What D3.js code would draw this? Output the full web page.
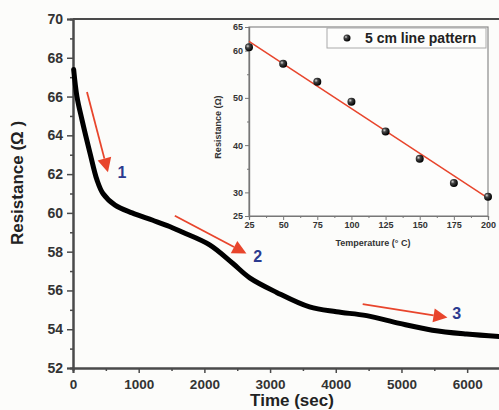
<!DOCTYPE html>
<html>
<head>
<meta charset="utf-8">
<script src="https://cdn.jsdelivr.net/npm/d3@7"></script>
<style>
  body { margin: 0; background: #fcfcfa; }
  svg { display: block; font-family: "Liberation Sans", Arial, sans-serif; }
</style>
</head>
<body>
<svg id="chart" width="499" height="410"></svg>
<script>
// main curve: resistance vs time
const timeSec = [10, 60, 137, 258, 365, 456, 640, 900, 1215, 1470, 1670, 2080, 2430, 2690, 3100, 3600, 4010, 4470, 4970, 5470, 5990, 6500]
const resistance = [67.4, 66.0, 64.8, 63.1, 61.7, 61.0, 60.4, 60.0, 59.62, 59.3, 59.0, 58.35, 57.4, 56.65, 55.9, 55.15, 54.9, 54.7, 54.3, 53.95, 53.75, 53.62]

// inset: resistance vs temperature
const temperature = [25, 50, 75, 100, 125, 150, 175, 200]
const insetResistance = [60.7, 57.2, 53.4, 49.2, 42.9, 37.1, 32.0, 29.1]
const fitTemp = [25, 200]
const fitRes = [61.95, 28.8]

// tick labels
const mainYTicks = [52, 54, 56, 58, 60, 62, 64, 66, 68, 70]
const mainXTicks = [0, 1000, 2000, 3000, 4000, 5000, 6000]
const insetXTicks = [25, 50, 75, 100, 125, 150, 175, 200]
const insetYTicks = [25, 30, 40, 50, 60, 65]

// arrow annotations (data coords)
const arrowLabels = ['1', '2', '3']
const arrowFrom = [[213, 66.23], [1550, 59.85], [4410, 55.3]]
const arrowTo = [[532, 62.1], [2640, 57.9], [5700, 54.6]]
const labelAt = [[745, 62.1], [2810, 57.75], [5840, 54.8]]

const svg = d3.select('#chart')
const axisColor = '#4a4a4a'
const red = '#e8452c'
const blue = '#2b3a8f'

// Main scales
const x = d3.scaleLinear().domain([0, 6500]).range([73, 500])
const y = d3.scaleLinear().domain([52, 70]).range([368, 19])

// top frame line
svg.append('line')
    .attr('x1', x(0)).attr('x2', 500)
    .attr('y1', y(70)).attr('y2', y(70))
    .attr('stroke', axisColor).attr('stroke-width', 2)

// Main Y axis
const yAxis = svg.append('g')
    .attr('transform', `translate(${x(0)},0)`)
    .call(d3.axisLeft(y).tickValues(mainYTicks).tickSize(6).tickPadding(4))
yAxis.append('g')
    .call(d3.axisLeft(y).tickValues(d3.range(53, 70, 2)).tickSize(3).tickFormat(''))
yAxis.selectAll('path').attr('stroke', axisColor).attr('stroke-width', 2)
yAxis.selectAll('line').attr('stroke', axisColor).attr('stroke-width', 1.5)
yAxis.selectAll('text')
    .attr('fill', '#333').style('font-size', '14px').style('font-weight', 'bold')

// Main X axis
const xAxis = svg.append('g')
    .attr('transform', `translate(0,${y(52)})`)
    .call(d3.axisBottom(x).tickValues(mainXTicks).tickSize(5).tickPadding(6).tickFormat(d3.format('d')))
xAxis.append('g')
    .call(d3.axisBottom(x).tickValues(d3.range(500, 6500, 1000)).tickSize(3).tickFormat(''))
xAxis.selectAll('path').attr('stroke', axisColor).attr('stroke-width', 2)
xAxis.selectAll('line').attr('stroke', axisColor).attr('stroke-width', 1.5)
xAxis.selectAll('text')
    .attr('fill', '#333').style('font-size', '13.5px').style('font-weight', 'bold')

// Axis titles
svg.append('text')
    .attr('transform', 'translate(23,183) rotate(-90)')
    .attr('text-anchor', 'middle')
    .style('font-size', '17px').style('font-weight', 'bold').attr('fill', '#222')
    .text('Resistance (Ω )')

svg.append('text')
    .attr('x', 292).attr('y', 406)
    .attr('text-anchor', 'middle')
    .style('font-size', '17px').style('font-weight', 'bold').attr('fill', '#222')
    .text('Time (sec)')

// Main curve
const line = d3.line()
    .x((d, i) => x(timeSec[i]))
    .y(d => y(d))
    .curve(d3.curveCatmullRom.alpha(0.5))

svg.append('path')
    .datum(resistance)
    .attr('d', line)
    .attr('fill', 'none')
    .attr('stroke', '#000')
    .attr('stroke-width', 5)
    .attr('stroke-linecap', 'round')

// Arrows
arrowLabels.forEach((lab, i) => {
    const p0 = [x(arrowFrom[i][0]), y(arrowFrom[i][1])]
    const p1 = [x(arrowTo[i][0]), y(arrowTo[i][1])]
    const ang = Math.atan2(p1[1] - p0[1], p1[0] - p0[0])
    const headLen = 14, headW = 7
    const base = [p1[0] - headLen * Math.cos(ang), p1[1] - headLen * Math.sin(ang)]
    svg.append('line')
        .attr('x1', p0[0]).attr('y1', p0[1])
        .attr('x2', base[0]).attr('y2', base[1])
        .attr('stroke', red).attr('stroke-width', 1.8)
    const nx = -Math.sin(ang), ny = Math.cos(ang)
    svg.append('path')
        .attr('d', `M${p1[0]},${p1[1]} L${base[0] + nx * headW},${base[1] + ny * headW} L${base[0] - nx * headW},${base[1] - ny * headW} Z`)
        .attr('fill', red)
    svg.append('text')
        .attr('x', x(labelAt[i][0])).attr('y', y(labelAt[i][1]))
        .attr('dy', '0.36em')
        .attr('text-anchor', 'middle')
        .style('font-size', '16px').style('font-weight', 'bold')
        .attr('fill', blue)
        .text(lab)
})

// ---------------- Inset ----------------
const ix = d3.scaleLinear().domain([25, 200]).range([249, 488])
const iy = d3.scaleLinear().domain([25, 65]).range([216, 27])

svg.append('rect')
    .attr('x', ix(25)).attr('y', iy(65))
    .attr('width', ix(200) - ix(25)).attr('height', iy(25) - iy(65))
    .attr('fill', '#fdfdfc')
    .attr('stroke', '#8a8a8a').attr('stroke-width', 1.2)

const iyAxis = svg.append('g')
    .attr('transform', `translate(${ix(25)},0)`)
    .call(d3.axisLeft(iy).tickValues(insetYTicks).tickSize(4).tickPadding(2))
iyAxis.append('g')
    .call(d3.axisLeft(iy).tickValues([35, 45, 55]).tickSize(2).tickFormat(''))
const ixAxis = svg.append('g')
    .attr('transform', `translate(0,${iy(25)})`)
    .call(d3.axisBottom(ix).tickValues(insetXTicks).tickSize(4).tickPadding(2))
ixAxis.append('g')
    .call(d3.axisBottom(ix).tickValues(d3.range(37.5, 200, 25)).tickSize(2).tickFormat(''))
;[iyAxis, ixAxis].forEach(a => {
    a.selectAll('path').attr('stroke', '#777').attr('stroke-width', 1.2)
    a.selectAll('line').attr('stroke', '#777')
    a.selectAll('text').attr('fill', '#333')
        .style('font-size', '9px').style('font-weight', 'bold')
})

svg.append('text')
    .attr('transform', 'translate(221,127) rotate(-90)')
    .attr('text-anchor', 'middle')
    .style('font-size', '9px').style('font-weight', 'bold').attr('fill', '#333')
    .text('Resistance (Ω)')

svg.append('text')
    .attr('x', 373).attr('y', 246)
    .attr('text-anchor', 'middle')
    .style('font-size', '9px').style('font-weight', 'bold').attr('fill', '#333')
    .text('Temperature (° C)')

// fit line
svg.append('line')
    .attr('x1', ix(fitTemp[0])).attr('y1', iy(fitRes[0]))
    .attr('x2', ix(fitTemp[1])).attr('y2', iy(fitRes[1]))
    .attr('stroke', red).attr('stroke-width', 1.5)

const grad = svg.append('defs').append('radialGradient')
    .attr('id', 'ball').attr('cx', '35%').attr('cy', '35%').attr('r', '65%')
grad.append('stop').attr('offset', '0%').attr('stop-color', '#d8d8d8')
grad.append('stop').attr('offset', '35%').attr('stop-color', '#444')
grad.append('stop').attr('offset', '100%').attr('stop-color', '#000')

svg.selectAll('.pt')
    .data(insetResistance)
    .enter()
    .append('circle')
    .attr('class', 'pt')
    .attr('cx', (d, i) => ix(temperature[i]))
    .attr('cy', d => iy(d))
    .attr('r', 4)
    .attr('fill', 'url(#ball)')

// legend
svg.append('rect')
    .attr('x', 327).attr('y', 28).attr('width', 159).attr('height', 20)
    .attr('fill', '#fdfdfc').attr('stroke', '#aaa').attr('stroke-width', 1)
svg.append('circle')
    .attr('cx', 347).attr('cy', 38).attr('r', 3.5).attr('fill', 'url(#ball)')
svg.append('text')
    .attr('x', 365).attr('y', 43)
    .style('font-size', '14px').style('font-weight', 'bold').attr('fill', '#222')
    .text('5 cm line pattern')
</script>
</body>
</html>
